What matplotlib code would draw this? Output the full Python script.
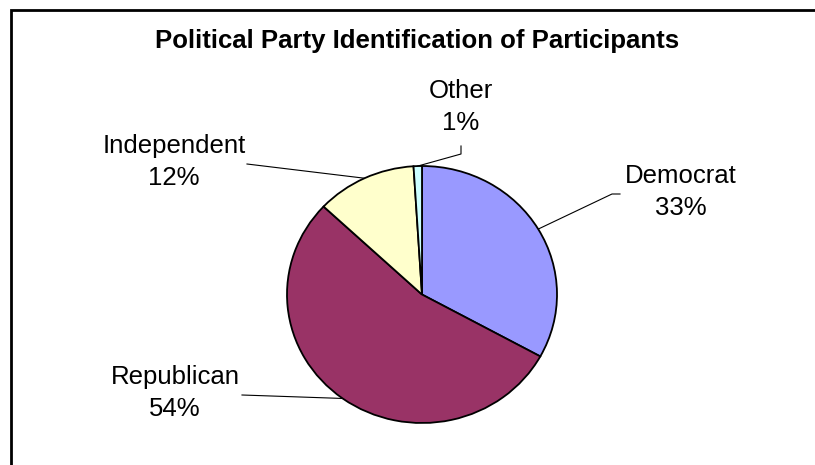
import numpy as np
import matplotlib.pyplot as plt

plt.rcParams['font.family'] = ['Liberation Sans', 'DejaVu Sans']

# Data
labels = ['Democrat', 'Republican', 'Independent', 'Other']
shares = [33, 54, 12, 1]
colors = ['#9999FF', '#993366', '#FFFFCC', '#CCFFFF']

# Label layout (pixel coords, origin top-left)
label_pos = [(681, 192), (175, 393), (174, 162), (461, 107)]
leader_ends = [[(612, 194), (620, 194)],
               [(242, 395)],
               [(247, 164)],
               [(461, 154), (461, 146)]]

W, H = 815, 465
fig = plt.figure(figsize=(W / 100, H / 100), dpi=100)

# overlay axes in pixel coordinates
ov = fig.add_axes([0, 0, 1, 1])
ov.set_xlim(0, W)
ov.set_ylim(H, 0)
ov.axis('off')

# chart area border (only top and left visible)
ov.plot([11, 11, W], [H, 10, 10], color='black', lw=2, solid_joinstyle='miter')

ov.text(417, 41, 'Political Party Identification of Participants',
        ha='center', va='center', fontsize=18.5, fontweight='bold')

# pie (slightly elliptical like the original)
cx, cy, rx, ry = 422, 294.5, 135, 128.5
pax = fig.add_axes([(cx - rx) / W, (H - cy - ry) / H, 2 * rx / W, 2 * ry / H])
wedges, _ = pax.pie(shares, colors=colors, startangle=90, counterclock=False,
                    wedgeprops=dict(edgecolor='black', linewidth=1.3))
pax.set_aspect('auto')
pax.set_xlim(-1, 1)
pax.set_ylim(-1, 1)
for w in wedges:
    w.set_clip_on(False)

for w, lab, share, pos, ends in zip(wedges, labels, shares, label_pos, leader_ends):
    mid = np.deg2rad((w.theta1 + w.theta2) / 2)
    px, py = pax.transData.transform((np.cos(mid), np.sin(mid)))
    xs = [px] + [p[0] for p in ends]
    ys = [H - py] + [p[1] for p in ends]
    ov.plot(xs, ys, color='black', lw=0.8)
    ov.text(pos[0], pos[1], f'{lab}\n{share}%', ha='center', va='center',
            fontsize=18.5, linespacing=1.42)

fig.savefig('out.png', dpi=100)
